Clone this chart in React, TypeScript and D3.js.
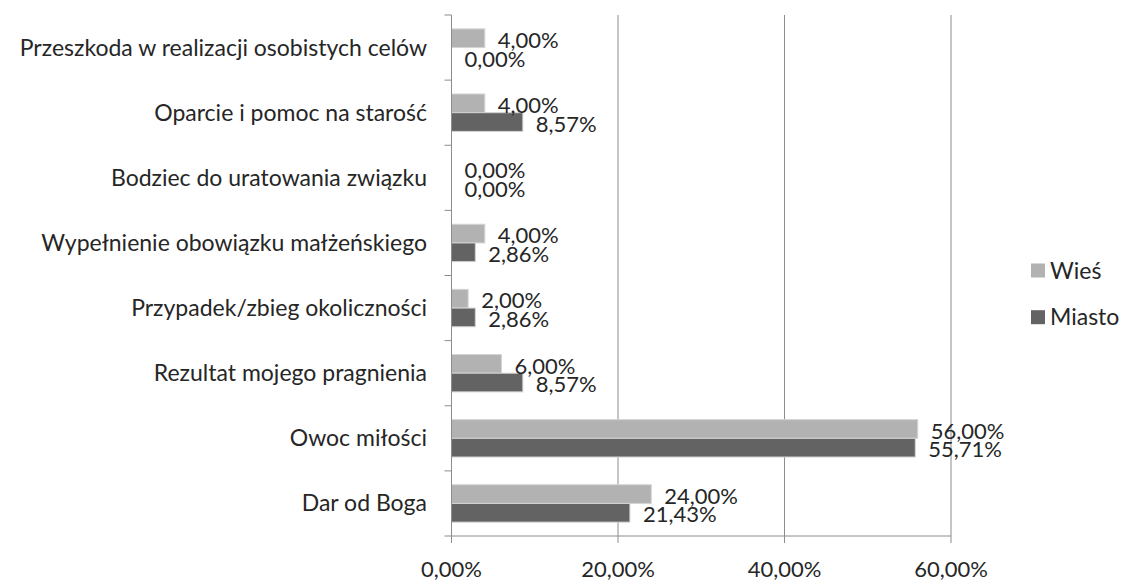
import React from "react";
import * as d3 from "d3";

const categories = [
  "Przeszkoda w realizacji osobistych celów",
  "Oparcie i pomoc na starość",
  "Bodziec do uratowania związku",
  "Wypełnienie obowiązku małżeńskiego",
  "Przypadek/zbieg okoliczności",
  "Rezultat mojego pragnienia",
  "Owoc miłości",
  "Dar od Boga",
];
const wies = [4.0, 4.0, 0.0, 4.0, 2.0, 6.0, 56.0, 24.0];
const miasto = [0.0, 8.57, 0.0, 2.86, 2.86, 8.57, 55.71, 21.43];
const xTicks = [0, 20, 40, 60];
const seriesNames = ["Wieś", "Miasto"];
const seriesColors = ["#B2B2B2", "#636363"];

const W = 1124;
const H = 581;
const left = 451.5;
const right = 951;
const top = 15;
const bottom = 536;
const font = "Lato, 'Open Sans', sans-serif";
const fmt = (v: number) => v.toFixed(2).replace(".", ",") + "%";

export default function App() {
  const x = d3.scaleLinear().domain([0, 60]).range([left, right]);
  const y = d3.scaleBand<string>().domain(categories).range([top, bottom]).paddingInner(0).paddingOuter(0);
  const barH = 18.7;
  const grid = "#8C8C8C";
  const series = [wies, miasto];
  const txt = "#262626";

  return (
    <svg width={W} height={H} style={{ position: "absolute", left: 0, top: 0, background: "#fff" }} fontFamily={font}>
      {xTicks.filter((t) => t > 0).map((t) => (
        <line key={"g" + t} x1={x(t)} x2={x(t)} y1={top} y2={bottom} stroke={grid} strokeWidth={1} />
      ))}
      {categories.map((c, i) => {
        const cy = (y(c) as number) + y.bandwidth() / 2;
        return series.map((s, si) => (
          <rect
            key={c + si}
            x={x(0)}
            y={cy - barH + si * barH}
            width={Math.max(0, x(s[i]) - x(0))}
            height={barH}
            fill={seriesColors[si]}
            stroke={s[i] > 0 ? "#D4D4D4" : "none"}
            strokeWidth={1}
          />
        ));
      })}
      <line x1={left} x2={left} y1={top} y2={bottom + 6} stroke={grid} />
      {categories.map((c, i) => (
        <line key={"yt" + i} x1={left - 7} x2={left} y1={y(c) as number} y2={y(c) as number} stroke={grid} />
      ))}
      <line x1={left - 7} x2={left} y1={bottom} y2={bottom} stroke={grid} />
      <line x1={left} x2={right} y1={bottom} y2={bottom} stroke={grid} />
      {xTicks.map((t) => (
        <g key={"xt" + t}>
          <line x1={x(t)} x2={x(t)} y1={bottom} y2={bottom + 7} stroke={grid} />
          <text x={x(t)} y={577} textAnchor="middle" fontSize={22} fill={txt}>
            {fmt(t)}
          </text>
        </g>
      ))}
      {categories.map((c) => (
        <text
          key={"cl" + c}
          x={427}
          y={(y(c) as number) + y.bandwidth() / 2}
          dy="0.35em"
          textAnchor="end"
          fontSize={23}
          fill={txt}
        >
          {c}
        </text>
      ))}
      {categories.map((c, i) => {
        const cy = (y(c) as number) + y.bandwidth() / 2;
        return series.map((s, si) => (
          <text
            key={"dl" + c + si}
            x={x(s[i]) + 13}
            y={cy - barH / 2 + si * barH + 2}
            dy="0.35em"
            fontSize={22}
            fill={txt}
          >
            {fmt(s[i])}
          </text>
        ));
      })}
      {seriesNames.map((n, i) => (
        <g key={"lg" + n}>
          <rect x={1031} y={263.5 + i * 46.7} width={14} height={14} fill={seriesColors[i]} />
          <text x={1050} y={270.5 + i * 46.7} dy="0.35em" fontSize={23} fill={txt}>
            {n}
          </text>
        </g>
      ))}
    </svg>
  );
}
